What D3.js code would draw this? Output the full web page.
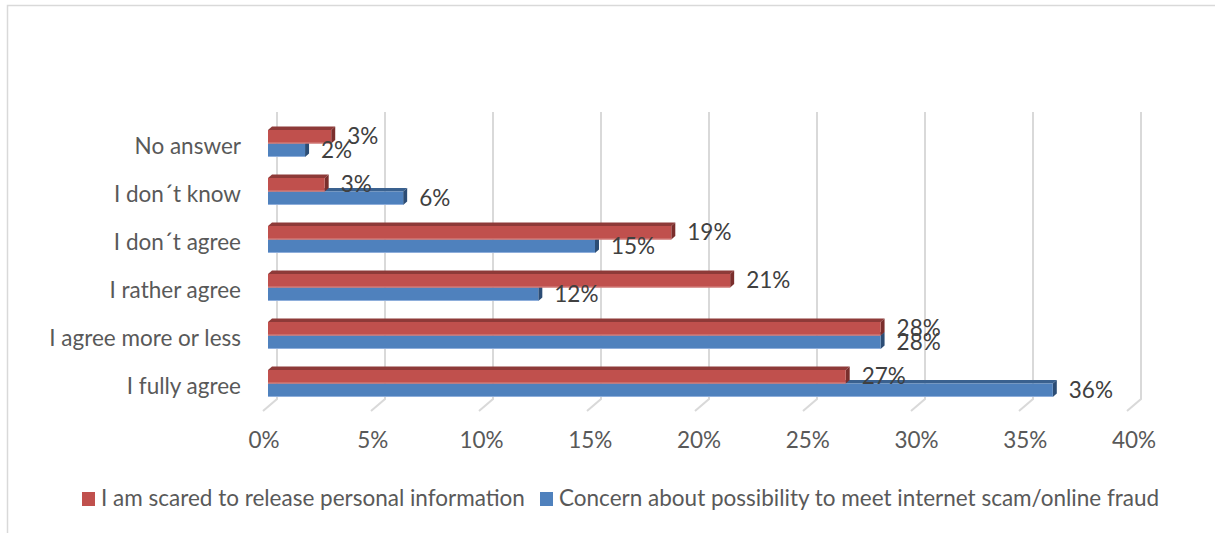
<!DOCTYPE html>
<html><head><meta charset="utf-8">
<script src="https://cdn.jsdelivr.net/npm/d3@7"></script>
<style>
html,body{margin:0;padding:0;background:#fff;}
svg{display:block;font-family:Lato,"Open Sans",sans-serif;}
</style></head>
<body><svg id="c" width="1215" height="533"></svg>
<script>
const categories = ["I fully agree","I agree more or less","I rather agree","I don´t agree","I don´t know","No answer"];
const seriesNames = ["I am scared to release personal information","Concern about possibility to meet internet scam/online fraud"];
const scaredValues  = [0.265, 0.281, 0.212, 0.185, 0.026, 0.029];
const concernValues = [0.360, 0.281, 0.124, 0.150, 0.062, 0.017];
const ticks = [0,0.05,0.10,0.15,0.20,0.25,0.30,0.35,0.40];

const svg = d3.select("#c");
const W = 1215, H = 533;
const textColor = "#595959";
const gridColor = "#D9D9D9";
const fs = 22.5;

// frame (left + top, chart area is cropped)
svg.append("path").attr("d", `M7.5,${H} V5.5 H${W}`).attr("fill","none").attr("stroke",gridColor).attr("stroke-width",1.5);

const xBack = d3.scaleLinear().domain([0,0.4]).range([277,1141]);
const xBar  = d3.scaleLinear().domain([0,0.4]).range([268,1140]);
const xLab  = d3.scaleLinear().domain([0,0.4]).range([264,1134]);
const wallTop = 112, floorBack = 399, floorFront = 411, depthX = -14;

const y = d3.scaleBand().domain(categories).range([407.5,119.5]).paddingInner(0.4375).paddingOuter(0.21875);
const ys = d3.scaleBand().domain([0,1]).range([0,y.bandwidth()]);

// gridlines (back wall + floor)
svg.append("g").selectAll("path").data(ticks).join("path")
  .attr("d", t => `M${xBack(t)},${wallTop} V${floorBack} L${xBack(t)+depthX},${floorFront}`)
  .attr("fill","none").attr("stroke",gridColor).attr("stroke-width",2);

// axis labels
svg.append("g").selectAll("text").data(ticks).join("text")
  .attr("x", t => xLab(t)).attr("y", 448).attr("text-anchor","middle")
  .attr("font-size",fs).attr("fill",textColor)
  .text(d3.format(".0%"));

// category labels
svg.append("g").selectAll("text").data(categories).join("text")
  .attr("x", 241).attr("y", c => y(c) + y.bandwidth()/2 + 10.5)
  .attr("text-anchor","end").attr("font-size",fs).attr("fill",textColor)
  .text(c => c);

const dx = 4, dy = 3.5;
const styles = [
  {front:"#C0504D", top:"#8E3A38", side:"#7A2E2C", edge:"#D88A88"},
  {front:"#4F81BD", top:"#3A618F", side:"#2C4D75", edge:"#8EAEDB"}
];
const seriesVals = [scaredValues, concernValues];

// draw blue (series 1) first so red covers its top face
const gBars = svg.append("g");
[1,0].forEach(si => {
  const st = styles[si];
  const rows = categories.map((c,i) => ({c, v: seriesVals[si][i]}));
  const g = gBars.append("g");
  rows.forEach(r => {
    const y0 = y(r.c) + ys(si), h = ys.bandwidth();
    const x0 = xBar(0), x1 = xBar(r.v);
    g.append("path").attr("d", `M${x0},${y0} L${x0+dx},${y0-dy} L${x1+dx},${y0-dy} L${x1},${y0} Z`).attr("fill", st.top);
    g.append("path").attr("d", `M${x1},${y0} L${x1+dx},${y0-dy} L${x1+dx},${y0+h-dy} L${x1},${y0+h} Z`).attr("fill", st.side);
    g.append("rect").attr("x",x0).attr("y",y0).attr("width",x1-x0).attr("height",h).attr("fill",st.front);
    g.append("line").attr("x1",x0).attr("x2",x1).attr("y1",y0+h-0.5).attr("y2",y0+h-0.5).attr("stroke",st.edge).attr("stroke-width",1);
  });
});

// data labels
[0,1].forEach(si => {
  const rows = categories.map((c,i) => ({c, v: seriesVals[si][i]}));
  svg.append("g").selectAll("text").data(rows).join("text")
    .attr("x", d => xBar(d.v) + 16)
    .attr("y", d => y(d.c) + ys(si) + ys.bandwidth()/2 + 7.5)
    .attr("font-size",fs).attr("fill","#404040")
    .text(d => d3.format(".0%")(d.v));
});

// legend
const leg = svg.append("g");
const legX = [82, 540];
seriesNames.forEach((n,i) => {
  leg.append("rect").attr("x",legX[i]).attr("y",492).attr("width",13).attr("height",14).attr("fill",styles[i].front);
  leg.append("text").attr("x",legX[i]+19).attr("y",506).attr("font-size",fs).attr("fill",textColor).text(n);
});
</script></body></html>
